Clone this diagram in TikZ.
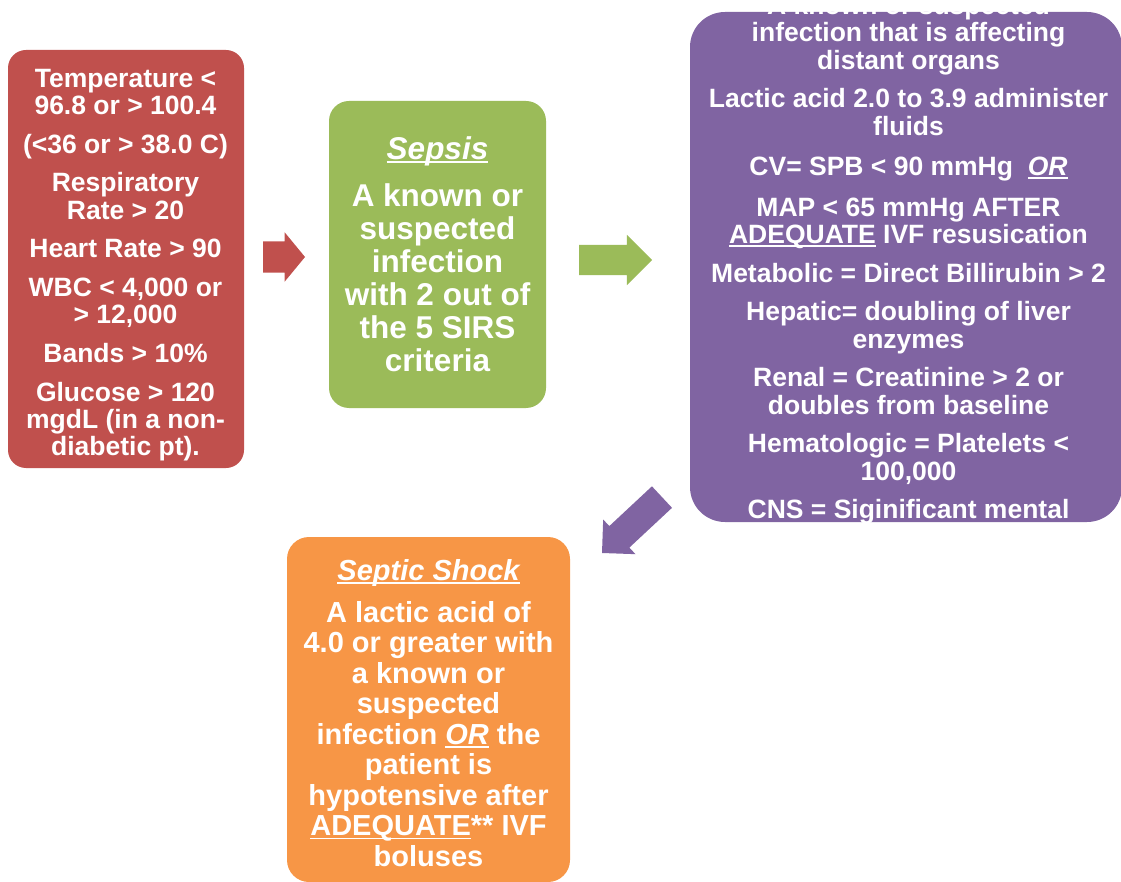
\documentclass[tikz,border=0pt]{standalone}
\usepackage{fontspec}
\setmainfont{Liberation Sans}
\usetikzlibrary{shapes.arrows}
\definecolor{sirsred}{HTML}{C0504D}
\definecolor{sepgreen}{HTML}{9BBB59}
\definecolor{sevpurple}{HTML}{8064A2}
\definecolor{shockorange}{HTML}{F79646}
\newcommand{\ulin}[1]{\setbox0\hbox{#1}\rlap{\rule[-3.5pt]{\wd0}{1.8pt}}\box0\relax}
\tikzset{
  card/.style={inner sep=0pt, outer sep=0pt, draw=none},
  txt/.style={text=white, align=center, inner sep=0pt},
  blk/.style={single arrow, inner xsep=0pt, outer sep=0pt, single arrow head indent=0pt, anchor=tip}
}

\begin{document}
\begin{tikzpicture}[x=1pt, y=-1pt]
  \clip (0,0) rectangle (1121,882);

  % boxes
  \node[card, fill=sirsred, rounded corners=18pt, minimum width=236pt, minimum height=418pt] (sirs) at (126,259) {};
  \node[card, fill=sepgreen, rounded corners=20pt, minimum width=217pt, minimum height=307pt] (sepsis) at (437.5,254.5) {};
  \node[card, fill=sevpurple, rounded corners=35pt, minimum width=432pt, minimum height=510pt] (severe) at (906,267) {};
  \node[card, fill=shockorange, rounded corners=22pt, minimum width=283pt, minimum height=345pt] (shock) at (428.5,709.5) {};

  % texts
  \node[txt, font=\bfseries\fontsize{26.5}{27.2}\selectfont] (sirstxt) at (125.5,265) {Temperature <\\96.8 or > 100.4\\[11.5pt]
    (<36 or > 38.0 C)\\[11.5pt]
    Respiratory\\Rate > 20\\[11.5pt]
    Heart Rate > 90\\[11.5pt]
    WBC < 4,000 or\\> 12,000\\[11.5pt]
    Bands > 10\%\\[11.5pt]
    Glucose > 120\\mgdL (in a non-\\diabetic pt).};
  \node[txt, font=\bfseries\fontsize{31.5}{33}\selectfont] (sepsistxt) at (437.5,254) {\ulin{\itshape Sepsis}\\[14pt]
    A known or\\suspected\\infection\\with 2 out of\\the 5 SIRS\\criteria};
  \node[txt, font=\bfseries\fontsize{26.5}{27.5}\selectfont] (severetxt) at (908.5,259.5) {A known or suspected\\infection that is affecting\\distant organs\\[11pt]
    Lactic acid 2.0 to 3.9 administer\\fluids\\[13pt]
    CV= SPB < 90 mmHg \ \ulin{\itshape OR}\\[13pt]
    MAP < 65 mmHg AFTER\\\ulin{ADEQUATE} IVF resusication\\[11pt]
    Metabolic = Direct Billirubin > 2\\[11pt]
    Hepatic= doubling of liver\\enzymes\\[11pt]
    Renal = Creatinine > 2 or\\doubles from baseline\\[11pt]
    Hematologic = Platelets <\\100,000\\[11pt]
    CNS = Siginificant mental};
  \node[txt, font=\bfseries\fontsize{29}{30.5}\selectfont] (shocktxt) at (428.5,713) {\ulin{\itshape Septic Shock}\\[11.5pt]
    A lactic acid of\\4.0 or greater with\\a known or\\suspected\\infection \ulin{\itshape OR} the\\patient is\\hypotensive after\\\ulin{ADEQUATE}** IVF\\boluses};

  % block arrows
  \node[blk, fill=sirsred, inner ysep=15.5pt, minimum height=42pt, single arrow head extend=9pt, single arrow tip angle=101] (arrA) at (305,257) {};
  \node[blk, fill=sepgreen, inner ysep=15pt, minimum height=73pt, single arrow head extend=10pt, single arrow tip angle=90] (arrB) at (652,260) {};
  \node[blk, fill=sevpurple, inner ysep=14.5pt, minimum height=82pt, single arrow head extend=9pt, single arrow tip angle=90, rotate=223] (arrC) at (602,553) {};
\end{tikzpicture}
\end{document}
